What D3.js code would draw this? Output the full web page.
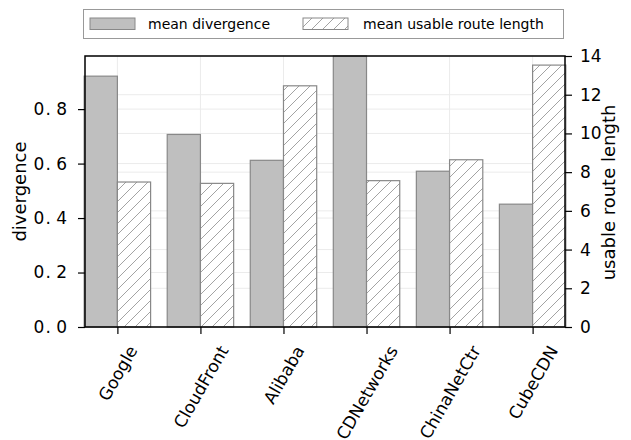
<!DOCTYPE html>
<html>
<head>
<meta charset="utf-8">
<script src="https://cdn.jsdelivr.net/npm/d3@7"></script>
<style>
  body { margin: 0; background: #fff; }
  svg { font-family: "DejaVu Sans", sans-serif; }
</style>
</head>
<body>
<svg id="chart" width="631" height="440"></svg>
<script>
// chart data
var categories = ["Google", "CloudFront", "Alibaba", "CDNetworks", "ChinaNetCtr", "CubeCDN"];
var divergence = [0.921, 0.707, 0.612, 0.995, 0.572, 0.451];
var routeLength = [7.49, 7.42, 12.46, 7.56, 8.64, 13.53];
var leftTicks = [0, 0.2, 0.4, 0.6, 0.8];
var rightTicks = [0, 2, 4, 6, 8, 10, 12, 14];

// plot box
var pLeft = 85, pRight = 565, pTop = 56, pBottom = 327;
var barW = 0.4;

var svg = d3.select("#chart");

var x = d3.scaleLinear().domain([-0.39, categories.length - 1 + 0.39]).range([pLeft, pRight]);
var yL = d3.scaleLinear().domain([0, 0.995]).range([pBottom, pTop]);
var yR = d3.scaleLinear().domain([0, 14]).range([pBottom, pTop]);

// hatch pattern
var defs = svg.append("defs");
var pat = defs.append("pattern")
  .attr("id", "hatch")
  .attr("patternUnits", "userSpaceOnUse")
  .attr("width", 11).attr("height", 11);
pat.append("rect").attr("width", 11).attr("height", 11).attr("fill", "#fff");
pat.append("path")
  .attr("d", "M-2,13 L13,-2 M-13,13 L2,-2 M9,24 L24,9")
  .attr("stroke", "#999").attr("stroke-width", 0.9);

// grid lines
var grid = svg.append("g");
leftTicks.forEach(function(t) {
  grid.append("line").attr("x1", pLeft).attr("x2", pRight)
    .attr("y1", yL(t)).attr("y2", yL(t))
    .attr("stroke", "#ebebeb").attr("stroke-width", 1);
});
rightTicks.forEach(function(t) {
  grid.append("line").attr("x1", pLeft).attr("x2", pRight)
    .attr("y1", yR(t)).attr("y2", yR(t))
    .attr("stroke", "#ebebeb").attr("stroke-width", 1);
});
categories.forEach(function(c, i) {
  grid.append("line").attr("x1", x(i)).attr("x2", x(i))
    .attr("y1", pTop).attr("y2", pBottom)
    .attr("stroke", "#ebebeb").attr("stroke-width", 1);
});

// bars
svg.append("g").selectAll("rect")
  .data(divergence)
  .enter().append("rect")
  .attr("x", function(d, i) { return x(i - barW); })
  .attr("width", x(barW) - x(0))
  .attr("y", function(d) { return yL(d); })
  .attr("height", function(d) { return pBottom - yL(d); })
  .attr("fill", "#bfbfbf")
  .attr("stroke", "#888").attr("stroke-width", 1.2);

svg.append("g").selectAll("rect")
  .data(routeLength)
  .enter().append("rect")
  .attr("x", function(d, i) { return x(i); })
  .attr("width", x(barW) - x(0))
  .attr("y", function(d) { return yR(d); })
  .attr("height", function(d) { return pBottom - yR(d); })
  .attr("fill", "url(#hatch)")
  .attr("stroke", "#888").attr("stroke-width", 1.2);

// axes
var fmt = d3.format(".1f");
var axL = svg.append("g").attr("transform", "translate(" + pLeft + ",0)")
  .call(d3.axisLeft(yL).tickValues(leftTicks)
    .tickFormat(function(d) { return fmt(d).replace(".", ".\u2009"); })
    .tickSize(7).tickPadding(10));
var axR = svg.append("g").attr("transform", "translate(" + pRight + ",0)")
  .call(d3.axisRight(yR).tickValues(rightTicks).tickSize(7).tickPadding(8));
var axB = svg.append("g").attr("transform", "translate(0," + pBottom + ")")
  .call(d3.axisBottom(x).tickValues(d3.range(categories.length)).tickFormat(function(i) { return categories[i]; }).tickSize(7));

[axL, axR, axB].forEach(function(a) {
  a.select(".domain").remove();
  a.selectAll(".tick line").attr("stroke", "#000").attr("stroke-width", 1.2);
  a.selectAll("text").attr("font-size", 17).attr("fill", "#000").attr("font-family", "DejaVu Sans");
});
axL.selectAll("text").attr("letter-spacing", 1);

// rotated x labels, bbox centred under tick
axB.selectAll(".tick text").each(function() {
  var t = d3.select(this);
  var L = this.getComputedTextLength();
  var h = 17;
  var a = 60 * Math.PI / 180;
  var bh = L * Math.sin(a) + h * Math.cos(a);
  t.attr("y", null).attr("dy", "0.35em")
    .attr("text-anchor", "middle")
    .attr("transform", "translate(0," + (16 + bh / 2) + ") rotate(-60)");
});

// frame
svg.append("rect").attr("x", pLeft).attr("y", pTop)
  .attr("width", pRight - pLeft).attr("height", pBottom - pTop)
  .attr("fill", "none").attr("stroke", "#000").attr("stroke-width", 1.5);

// axis titles
svg.append("text").attr("transform", "translate(25.5," + ((pTop + pBottom) / 2) + ") rotate(-90)")
  .attr("text-anchor", "middle").attr("font-size", 18).text("divergence");
svg.append("text").attr("transform", "translate(615," + ((pTop + pBottom) / 2 + 1) + ") rotate(-90)")
  .attr("text-anchor", "middle").attr("font-size", 18).text("usable route length");

// legend
var lg = svg.append("g");
lg.append("rect").attr("x", 83.5).attr("y", 9.5).attr("width", 480).attr("height", 29)
  .attr("fill", "#fff").attr("stroke", "#999").attr("stroke-width", 1);
lg.append("rect").attr("x", 90).attr("y", 18).attr("width", 45).attr("height", 11.5)
  .attr("fill", "#bfbfbf").attr("stroke", "#888").attr("stroke-width", 1);
lg.append("text").attr("x", 148).attr("y", 29).attr("font-size", 14).text("mean divergence");
lg.append("rect").attr("x", 303).attr("y", 18).attr("width", 45).attr("height", 11.5)
  .attr("fill", "url(#hatch)").attr("stroke", "#888").attr("stroke-width", 1);
lg.append("text").attr("x", 363).attr("y", 29).attr("font-size", 14).text("mean usable route length");
</script>
</body>
</html>
